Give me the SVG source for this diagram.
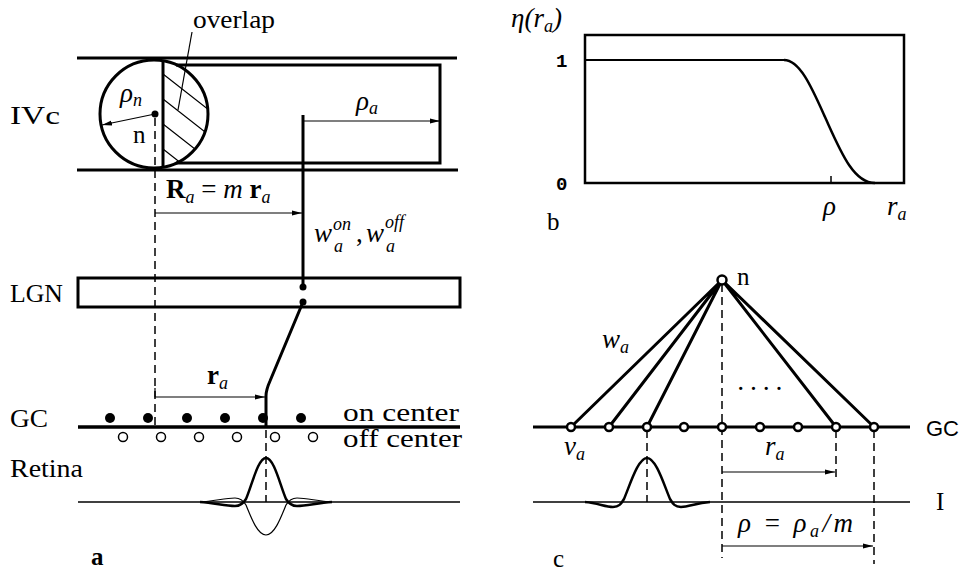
<svg xmlns="http://www.w3.org/2000/svg" width="960" height="571" viewBox="0 0 960 571">
<defs>
<style>
.thick{stroke:#000;stroke-width:3;fill:none}
.med{stroke:#000;stroke-width:2;fill:none}
.thin{stroke:#000;stroke-width:1.2;fill:none}
.dash{stroke:#000;stroke-width:1.5;fill:none;stroke-dasharray:8 5}
.lbl{font-family:"Liberation Serif",serif;font-size:25px;fill:#000}
.math{font-family:"Liberation Serif",serif;font-style:italic;font-size:27px;fill:#000}
.up{font-style:normal}
.bold{font-weight:bold;font-style:normal}
.sub{font-size:18px}
.mono{font-family:"Liberation Mono",monospace;font-weight:bold;font-size:19px;fill:#000}
.sans{font-family:"Liberation Sans",sans-serif;font-size:22px;fill:#000}
.fdot{fill:#000}
.odot{fill:#fff;stroke:#000;stroke-width:1.5}
.cnode{fill:#fff;stroke:#000;stroke-width:2.5}
</style>
<marker id="ah" viewBox="0 0 10 6" refX="10" refY="3" markerWidth="10" markerHeight="6" markerUnits="userSpaceOnUse" orient="auto"><path d="M0,0.5 L10,3 L0,5.5z" fill="#000"/></marker>
<clipPath id="circClip"><circle cx="154" cy="114" r="54"/></clipPath>
</defs>

<!-- Panel a -->
<g id="ivc-layer">
  <path class="thick" d="M77,58 H457 M77,170 H458"/>
  <path class="thick" d="M176,65 H440 V163 H176"/>
  <g clip-path="url(#circClip)">
    <path class="thin" d="M163,74 L233,129 M163,99 L233,154 M163,124 L233,179 M163,149 L233,204"/>
  </g>
  <circle class="thick" cx="154" cy="114" r="54"/>
  <path class="thick" d="M163,61 V167"/>
  <text class="lbl" x="10" y="124" textLength="50" lengthAdjust="spacingAndGlyphs">IVc</text>
</g>
<g id="overlap-label">
  <text class="lbl" x="193" y="28" textLength="82" lengthAdjust="spacingAndGlyphs">overlap</text>
  <path class="thin" d="M192,32 L178,110"/>
</g>
<g id="node-n">
  <circle class="fdot" cx="155" cy="114" r="3.5"/>
  <path class="thin" d="M155,114 L102,125" marker-end="url(#ah)"/>
  <text class="math" x="120" y="102">ρ<tspan class="sub" dy="4">n</tspan></text>
  <text class="lbl" x="133" y="143" font-size="25">n</text>
</g>
<g id="lgn">
  <rect class="thick" x="78" y="278" width="382" height="29"/>
  <text class="lbl" x="10" y="302" textLength="53" lengthAdjust="spacingAndGlyphs">LGN</text>
</g>
<g id="gc-a">
  <path d="M78,427 H460" stroke="#000" stroke-width="3.5"/>
  <circle class="fdot" cx="110" cy="418" r="5"/>
  <circle class="fdot" cx="148" cy="418" r="5"/>
  <circle class="fdot" cx="187" cy="418" r="5"/>
  <circle class="fdot" cx="225" cy="418" r="5"/>
  <circle class="fdot" cx="263" cy="418" r="5"/>
  <circle class="fdot" cx="301" cy="418" r="5"/>
  <circle class="odot" cx="123" cy="437" r="4.5"/>
  <circle class="odot" cx="161" cy="437" r="4.5"/>
  <circle class="odot" cx="199" cy="437" r="4.5"/>
  <circle class="odot" cx="237" cy="437" r="4.5"/>
  <circle class="odot" cx="275" cy="437" r="4.5"/>
  <circle class="odot" cx="313" cy="437" r="4.5"/>
  <text class="lbl" x="10" y="427" textLength="38" lengthAdjust="spacingAndGlyphs">GC</text>
  <text class="lbl" x="343" y="421" textLength="116" lengthAdjust="spacingAndGlyphs">on center</text>
  <text class="lbl" x="343" y="447" textLength="119" lengthAdjust="spacingAndGlyphs">off center</text>
</g>
<g id="retina">
  <path d="M78,502 H460" stroke="#000" stroke-width="1.5"/>
  <path d="M200,502 C215,503 225,506 235,506 C240,506 243,504 246,499 C252,485 258,458 266,458 C274,458 280,485 286,499 C289,504 292,506 297,506 C307,506 317,503 332,502" stroke="#000" stroke-width="2.5" fill="none"/>
  <path d="M200,502 C215,501 225,498 235,498 C240,498 243,500 246,505 C252,520 258,535 266,535 C274,535 280,520 286,505 C289,500 292,498 297,498 C307,498 317,501 332,502" stroke="#000" stroke-width="1.2" fill="none"/>
  <text class="lbl" x="10" y="477" textLength="73" lengthAdjust="spacingAndGlyphs">Retina</text>
  <text class="lbl" x="91" y="565" font-weight="bold" font-size="23">a</text>
</g>
<g id="connectors-a">
  <path class="dash" d="M155,118 V427"/>
  <path class="dash" d="M266,430 V502"/>
  <path d="M303,115 V287" stroke="#000" stroke-width="3"/>
  <path class="thin" d="M303,121 H440" marker-end="url(#ah)"/>
  <path class="thin" d="M155,213 H302" marker-end="url(#ah)"/>
  <circle class="fdot" cx="303" cy="287" r="3.5"/>
  <circle class="fdot" cx="303" cy="302" r="3.5"/>
  <path class="thick" d="M303,302 L270,381 Q266,390 266,396 V427"/>
  <path class="thin" d="M155,388 V397 H265" marker-end="url(#ah)"/>
  <text class="math" x="356" y="110">ρ<tspan class="sub" dy="4">a</tspan></text>
  <text class="math" x="166" y="198"><tspan class="bold">R</tspan><tspan class="sub" dy="5">a</tspan><tspan class="up" dy="-5"> = </tspan>m <tspan class="bold">r</tspan><tspan class="sub" dy="5">a</tspan></text>
  <text class="math" x="314" y="242">w</text>
  <text class="math sub" x="333" y="230">on</text>
  <text class="math sub" x="334" y="252">a</text>
  <text class="math up" x="356" y="242">,</text>
  <text class="math" x="366" y="242">w</text>
  <text class="math sub" x="385" y="228">off</text>
  <text class="math sub" x="386" y="252">a</text>
  <text class="math" x="207" y="384"><tspan class="bold">r</tspan><tspan class="sub" dy="5">a</tspan></text>
</g>

<!-- Panel b -->
<g id="panel-b">
  <rect x="585" y="35" width="319" height="148" fill="none" stroke="#000" stroke-width="2.5"/>
  <path d="M585,60 H785" stroke="#000" stroke-width="1.8" fill="none"/>
  <path d="M784,60 C800,60 812,88 825,117 C840,150 853,183 875,183" stroke="#000" stroke-width="2.5" fill="none"/>
  <path d="M831,176 V183" stroke="#000" stroke-width="1.5"/>
  <text class="math" x="511" y="27">η(r<tspan class="sub" dy="5">a</tspan><tspan dy="-5">)</tspan></text>
  <text class="mono" x="556" y="67">1</text>
  <text class="mono" x="556" y="190">0</text>
  <text class="math" x="823" y="215">ρ</text>
  <text class="math" x="887" y="215">r<tspan class="sub" dy="5">a</tspan></text>
  <text class="lbl" x="547" y="230" font-size="23">b</text>
</g>

<!-- Panel c -->
<g id="connectors-c">
  <path class="thick" d="M722,280 L571,427 M722,280 L609,427 M722,280 L647,427 M722,280 L836,427 M722,280 L874,427"/>
  <path class="dash" d="M722,284 V558"/>
  <path class="dash" d="M647,430 V502"/>
  <path class="dash" d="M836,430 V482"/>
  <path class="dash" d="M874,430 V564"/>
  <path class="thin" d="M722,472 H835" marker-end="url(#ah)"/>
  <path class="thin" d="M722,546 H873" marker-end="url(#ah)"/>
</g>
<g id="gc-c">
  <path d="M533,427 H910" stroke="#000" stroke-width="3"/>
  <circle class="cnode" cx="571" cy="427" r="4"/>
  <circle class="cnode" cx="609" cy="427" r="4"/>
  <circle class="cnode" cx="647" cy="427" r="4"/>
  <circle class="cnode" cx="684" cy="427" r="4"/>
  <circle class="cnode" cx="722" cy="427" r="4"/>
  <circle class="cnode" cx="760" cy="427" r="4"/>
  <circle class="cnode" cx="798" cy="427" r="4"/>
  <circle class="cnode" cx="836" cy="427" r="4"/>
  <circle class="cnode" cx="874" cy="427" r="4"/>
  <text class="sans" x="926" y="436">GC</text>
</g>
<g id="node-n-c">
  <circle class="cnode" cx="722" cy="280" r="4.5"/>
  <text class="lbl" x="737" y="285" font-size="25">n</text>
</g>
<g id="labels-c">
  <text class="math" x="602" y="348">w<tspan class="sub" dy="5">a</tspan></text>
  <text class="math" x="738" y="390" font-size="18" letter-spacing="6">....</text>
  <text class="math" x="564" y="455">v<tspan class="sub" dy="5">a</tspan></text>
  <text class="math" x="765" y="455">r<tspan class="sub" dy="5">a</tspan></text>
  <text class="math" x="738" y="532" textLength="115">ρ <tspan class="up">=</tspan> ρ<tspan class="sub" dy="5">a</tspan><tspan dy="-5">/m</tspan></text>
  <text class="lbl" x="553" y="567" font-size="23">c</text>
</g>
<g id="input-c">
  <path d="M533,502 H910" stroke="#000" stroke-width="1.5"/>
  <path d="M585,502 C598,503 605,507 613,507 C619,507 621,504 624,499 C630,485 638,458 647,458 C656,458 664,485 670,499 C673,504 675,507 681,507 C689,507 696,503 710,502" stroke="#000" stroke-width="2.5" fill="none"/>
  <text class="lbl" x="936" y="510" font-size="25">I</text>
</g>
</svg>
